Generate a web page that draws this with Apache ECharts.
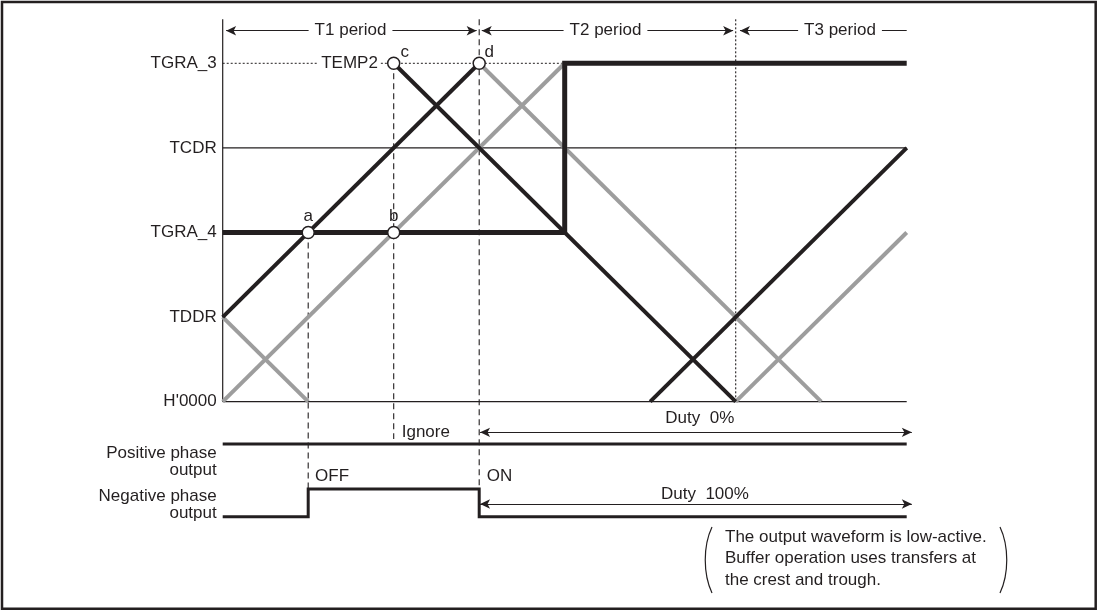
<!DOCTYPE html>
<html><head><meta charset="utf-8">
<script src="https://cdn.jsdelivr.net/npm/echarts@6/dist/echarts.min.js"></script>
<style>html,body{margin:0;padding:0;background:#fff}#c{width:1100px;height:611px}</style>
</head><body><div id="c"></div>
<script>
// ---- data (counter timing diagram, x in counter steps, y in register levels) ----
const levelNames = ["H'0000", "TDDR", "TGRA_4", "TCDR", "TGRA_3"];
const blackSegments = [
  [[0, 1], [3, 4]],
  [[2, 4], [6, 0]],
  [[5, 0], [8, 3]]
];
const graySegments = [
  [[0, 1], [1, 0]],
  [[0, 0], [4, 4]],
  [[3, 4], [7, 0]],
  [[6, 0], [8, 2]]
];
const compareLine = [[0, 2], [4, 2], [4, 4], [8, 4]];
const tcdrLine = [[0, 3], [8, 3]];
const baseLine = [[0, 0], [8, 0]];
const axisLineData = [[0, 0], [0, 4.52]];
const temp2Guide = [[[0, 4], [1.11, 4]], [[1.85, 4], [4, 4]]];
const keyPoints = [["a", 1, 2], ["b", 2, 2], ["c", 2, 4], ["d", 3, 4]];
const dashedGuides = [
  [[1, 2], [1, -1.032]],
  [[2, 4], [2, -0.44]],
  [[3, 4.52], [3, -1.359]]
];
const dottedGuides = [[[6, 4.52], [6, 0]]];
const positivePhase = [[0, -0.5], [8, -0.5]];
const negativePhase = [[0, -1.359], [1, -1.359], [1, -1.032], [3, -1.032], [3, -1.359], [8, -1.359]];
// arrows: [x1, x2, y, leftHead, rightHead]
const arrows = [
  [0.04, 2.97, 4.385, true, true],
  [3.03, 5.97, 4.385, true, true],
  [6.05, 8.0, 4.385, true, false],
  [3.01, 8.06, -0.362, true, true],
  [3.01, 8.06, -1.209, true, true]
];
const periodLabels = [["T1 period", 1.495, 4.385], ["T2 period", 4.477, 4.385], ["T3 period", 7.22, 4.385]];
const notes = [
  ["TEMP2", 1.815, 4, "right"],
  ["Ignore", 2.094, -0.357, "left"],
  ["Duty  0%", 5.58, -0.193, "center"],
  ["OFF", 1.08, -0.887, "left"],
  ["ON", 3.088, -0.887, "left"],
  ["Duty  100%", 5.64, -1.091, "center"],
  ["Positive phase\noutput", -0.07, -0.709, "right"],
  ["Negative phase\noutput", -0.07, -1.219, "right"]
];
const noteLines = ["The output waveform is low-active.", "Buffer operation uses transfers at", "the crest and trough."];

// ---- styling ----
const INK = '#231f20', GRAY = '#9d9d9d';
const FONT = "'Liberation Sans', Arial, Helvetica, sans-serif";

function line(data, color, width, type, z) {
  return { type: 'line', data: data, symbol: 'none', silent: true, clip: false, animation: false, z: z,
    lineStyle: { color: color, width: width, type: type || 'solid', cap: 'butt', join: 'miter', opacity: 1 } };
}

const series = [];
series.push(line(tcdrLine, INK, 1.2, 'solid', 1));
series.push(line(baseLine, INK, 1.2, 'solid', 1));
series.push(line(axisLineData, INK, 1.2, 'solid', 1));
temp2Guide.forEach(s => series.push(line(s, INK, 1, [2, 2], 1)));
dashedGuides.forEach(s => series.push(line(s, INK, 1.1, [6, 4], 1)));
dottedGuides.forEach(s => series.push(line(s, INK, 1.1, [2, 2], 1)));
graySegments.forEach(s => series.push(line(s, GRAY, 4, 'solid', 2)));
blackSegments.forEach(s => series.push(line(s, INK, 4, 'solid', 3)));
series.push(line(compareLine, INK, 5, 'solid', 4));
series.push(line(positivePhase, INK, 3, 'solid', 4));
series.push(line(negativePhase, INK, 3, 'solid', 4));

// arrows
series.push({
  type: 'line', data: [], silent: true, animation: false,
  markLine: {
    silent: true, animation: false, symbolSize: [7, 10],
    lineStyle: { color: INK, width: 1.1, type: 'solid', opacity: 1 },
    itemStyle: { color: INK },
    label: { show: false },
    data: arrows.map(a => [
      { coord: [a[0], a[2]], symbol: a[3] ? 'arrow' : 'none' },
      { coord: [a[1], a[2]], symbol: a[4] ? 'arrow' : 'none' }
    ])
  }
});

// key points
const labelPos = { a: 'top', b: 'top', c: [17.7, -4.3], d: [16.7, -4.3] };
series.push({
  type: 'scatter', z: 6, clip: false, silent: true, animation: false,
  symbol: 'circle', symbolSize: 12,
  itemStyle: { color: '#fff', borderColor: INK, borderWidth: 1.5, opacity: 1 },
  data: keyPoints.map(p => ({
    name: p[0], value: [p[1], p[2]],
    label: {
      show: true, formatter: '{b}', position: labelPos[p[0]], distance: 1,
      align: 'center', verticalAlign: labelPos[p[0]] === 'top' ? 'bottom' : 'middle',
      fontSize: 17, fontFamily: FONT, color: INK
    }
  }))
});

// period labels (white background to break arrow line)
series.push({
  type: 'scatter', z: 7, clip: false, silent: true, animation: false, symbolSize: 0,
  itemStyle: { opacity: 1 },
  data: periodLabels.map(p => ({
    value: [p[1], p[2]],
    label: { show: true, formatter: p[0], position: 'inside', align: 'center', verticalAlign: 'middle',
      backgroundColor: '#fff', padding: [2, 6], fontSize: 17, fontFamily: FONT, color: INK }
  }))
});

// text notes
series.push({
  type: 'scatter', z: 7, clip: false, silent: true, animation: false, symbolSize: 0,
  itemStyle: { opacity: 1 },
  data: notes.map(n => ({
    value: [n[1], n[2]],
    label: { show: true, formatter: n[0], position: 'inside', align: n[3], verticalAlign: 'middle',
      lineHeight: 17.5, fontSize: 17, fontFamily: FONT, color: INK }
  }))
});

const chart = echarts.init(document.getElementById('c'), null, { renderer: 'canvas' });
chart.setOption({
  animation: false,
  backgroundColor: '#fff',
  grid: { left: 222.7, right: 184.75, top: 19.3, bottom: 40.1, containLabel: false },
  xAxis: { type: 'value', min: 0, max: 8.1, show: false },
  yAxis: {
    type: 'value', min: -2, max: 4.52, interval: 1,
    axisLine: { show: false }, axisTick: { show: false }, splitLine: { show: false },
    axisLabel: {
      margin: 6, fontSize: 17, fontFamily: FONT, color: INK,
      showMinLabel: true, showMaxLabel: true,
      formatter: v => (Number.isInteger(v) && v >= 0 && v <= 4) ? levelNames[v] : ''
    }
  },
  series: series,
  graphic: [
    { type: 'rect', shape: { x: 2, y: 2, width: 1093.7, height: 606.7 }, style: { fill: 'none', stroke: INK, lineWidth: 2.5 }, z: 100 },
    { type: 'bezierCurve', shape: { x1: 712, y1: 527, x2: 712, y2: 593, cpx1: 703, cpy1: 546, cpx2: 703, cpy2: 574 }, style: { fill: 'none', stroke: INK, lineWidth: 1.2 } },
    { type: 'bezierCurve', shape: { x1: 1000, y1: 527, x2: 1000, y2: 593, cpx1: 1009, cpy1: 546, cpx2: 1009, cpy2: 574 }, style: { fill: 'none', stroke: INK, lineWidth: 1.2 } }
  ].concat(noteLines.map((t, i) => ({
    type: 'text', x: 725, y: 537 + i * 21.5,
    style: { text: t, font: '17px ' + FONT, fill: INK, align: 'left', verticalAlign: 'middle' }
  })))
});
</script>
</body></html>
